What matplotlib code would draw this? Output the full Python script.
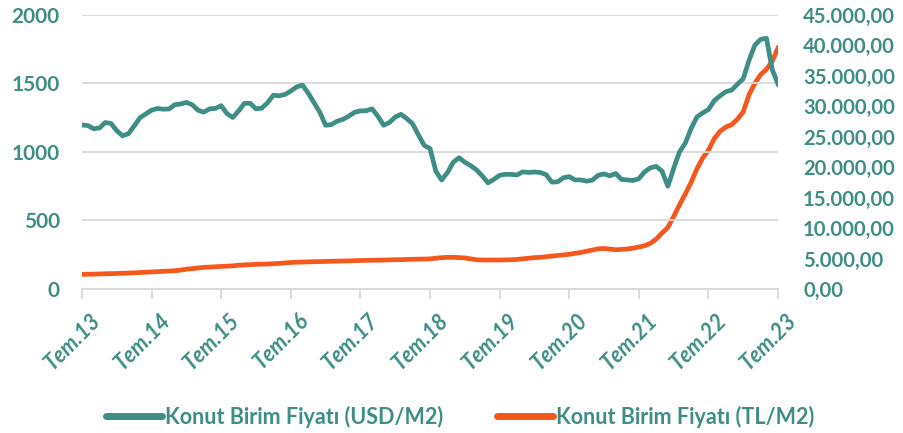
import matplotlib.pyplot as plt
from matplotlib.ticker import FuncFormatter
from matplotlib.transforms import ScaledTranslation

plt.rcParams['font.family'] = ['Lato', 'DejaVu Sans']
plt.rcParams['font.weight'] = 'bold'

TEAL = '#3E8E86'
ORANGE = '#F4581C'
GRID = '#D9D9D9'

# monthly, Tem.13 (Jul 2013) .. Tem.23 (Jul 2023)
usd_m2 = [
    1197, 1193, 1170, 1175, 1215, 1208, 1155, 1118, 1133, 1190, 1250, 1278,
    1305, 1318, 1312, 1314, 1345, 1350, 1362, 1345, 1305, 1291, 1315, 1318,
    1338, 1280, 1252, 1300, 1355, 1355, 1315, 1320, 1360, 1415, 1410, 1420,
    1445, 1475, 1488, 1430, 1360, 1290, 1195, 1200, 1225, 1238, 1262, 1290,
    1300, 1301, 1315, 1262, 1195, 1215, 1255, 1275, 1243, 1205, 1125, 1048,
    1025, 860, 795, 850, 925, 958, 925, 900, 870, 825, 775, 800,
    830, 837, 836, 833, 855, 850, 854, 850, 835, 780, 782, 812,
    820, 796, 796, 787, 795, 830, 840, 826, 843, 800, 796, 792,
    805, 855, 885, 895, 860, 750, 880, 1000, 1065, 1170, 1255, 1285,
    1310, 1375, 1410, 1440, 1452, 1495, 1535, 1670, 1780, 1822, 1830, 1600,
    1495,
]
tl_m2 = [
    2400, 2420, 2440, 2470, 2500, 2520, 2550, 2580, 2620, 2660, 2700, 2750,
    2800, 2850, 2900, 2950, 3000, 3100, 3250, 3350, 3450, 3550, 3600, 3650,
    3700, 3750, 3800, 3900, 3950, 4000, 4050, 4080, 4100, 4150, 4200, 4280,
    4350, 4400, 4420, 4450, 4480, 4500, 4520, 4550, 4580, 4600, 4620, 4650,
    4680, 4700, 4720, 4730, 4750, 4780, 4800, 4820, 4850, 4870, 4900, 4920,
    4950, 5050, 5150, 5200, 5200, 5150, 5100, 4950, 4800, 4770, 4760, 4760,
    4760, 4780, 4800, 4850, 4950, 5050, 5150, 5200, 5300, 5400, 5500, 5600,
    5700, 5850, 6000, 6200, 6400, 6600, 6650, 6550, 6450, 6500, 6570, 6700,
    6900, 7100, 7500, 8200, 9200, 10100, 11900, 13800, 15600, 17500, 19700, 21500,
    22800, 24700, 25900, 26600, 27000, 27900, 29100, 31900, 33800, 35200, 36100, 37400,
    39600,
]
tick_labels = ['Tem.13', 'Tem.14', 'Tem.15', 'Tem.16', 'Tem.17', 'Tem.18',
               'Tem.19', 'Tem.20', 'Tem.21', 'Tem.22', 'Tem.23']

months = list(range(len(usd_m2)))

fig = plt.figure(figsize=(9.04, 4.33), dpi=100)
ax = fig.add_axes([0.0907, 0.3326, 0.77, 0.6328])
ax2 = ax.twinx()

l1, = ax.plot(months, usd_m2, color=TEAL, lw=3.4, solid_joinstyle='round')
l2, = ax2.plot(months, tl_m2, color=ORANGE, lw=3.4, solid_joinstyle='round')
ax.set_zorder(ax2.get_zorder() + 1)
ax.patch.set_visible(False)

ax.set_xlim(0, 120)
ax.set_ylim(0, 2000)
ax2.set_ylim(0, 45000)
ax.set_yticks(range(0, 2001, 500))
ax2.set_yticks(range(0, 45001, 5000))
ax2.yaxis.set_major_formatter(FuncFormatter(
    lambda v, p: '{:,.2f}'.format(v).replace(',', 'X').replace('.', ',').replace('X', '.')))

ax.grid(axis='y', color=GRID, lw=1.3)
ax.set_axisbelow(True)
for a in (ax, ax2):
    for s in ('top', 'left', 'right'):
        a.spines[s].set_visible(False)
    a.spines['bottom'].set_color(GRID)
    a.spines['bottom'].set_linewidth(1.3)

ax.set_xticks(range(0, 121, 12))
ax.set_xticklabels(tick_labels, rotation=45, ha='right', rotation_mode='anchor',
                   style='italic', fontweight='bold', color=TEAL, fontsize=15.5)
ax.tick_params(axis='x', length=7, width=1.3, color=GRID, pad=4)
shift = ScaledTranslation(8 / 100, -5 / 100, fig.dpi_scale_trans)
for t in ax.get_xticklabels():
    t.set_transform(t.get_transform() + shift)

ax.tick_params(axis='y', length=0, labelsize=15, labelcolor=TEAL, pad=16)
ax2.tick_params(axis='y', length=0, labelsize=14.6, labelcolor=TEAL, pad=18)
for t in ax.get_yticklabels() + ax2.get_yticklabels():
    t.set_fontweight('bold')

leg = fig.legend([l1, l2], ['Konut Birim Fiyatı (USD/M2)', 'Konut Birim Fiyatı (TL/M2)'],
                 loc='center', bbox_to_anchor=(0.509, 0.037), ncol=2, frameon=False,
                 handlelength=2.6, handletextpad=0.15, columnspacing=2.5,
                 prop={'size': 15.5, 'weight': 'bold'})
for t in leg.get_texts():
    t.set_color(TEAL)
for h in leg.get_lines():
    h.set_linewidth(5)
    h.set_solid_capstyle('round')

fig.savefig('out.png', dpi=100)
